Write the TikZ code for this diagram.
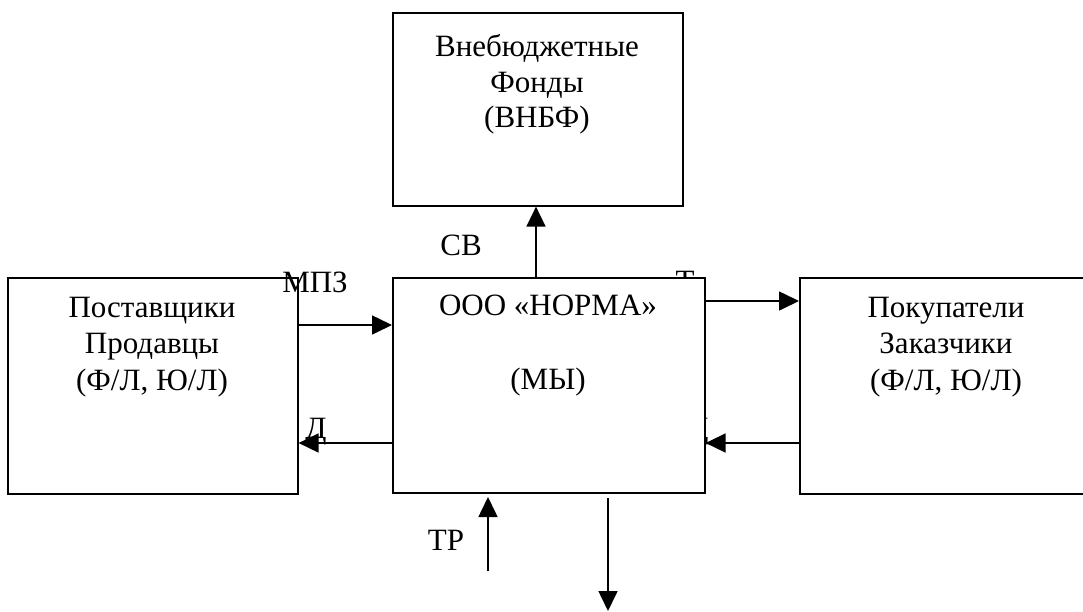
\documentclass[tikz,border=0pt]{standalone}
\usepackage{fontspec}
\setmainfont{Liberation Serif}
\usetikzlibrary{arrows.meta}
\begin{document}
\begin{tikzpicture}[x=1pt,y=-1pt,
  box/.style={draw, line width=1.6pt, fill=white, inner sep=0pt, anchor=north west},
  txt/.style={anchor=base, inner sep=0pt, font=\fontsize{31}{35.7}\selectfont},
  arr/.style={line width=1.6pt, -{Triangle[length=20pt,width=19pt]}}]
\useasboundingbox (0,0) rectangle (1083,611);
% boxes (outer) 
\node[box, minimum width=290pt, minimum height=193pt] (fonds) at (392,12) {};
\node[box, minimum width=290pt, minimum height=216pt] (supp) at (7,277) {};
\node[box, minimum width=294pt, minimum height=216pt] (cust) at (799,277) {};
% labels
\node[txt] (lsv) at (461,255) {СВ};
\node[txt] (lt) at (685,291) {Т};
\node[txt] (ld2) at (698,438) {Д};
% centre box over the hidden labels
\node[box, minimum width=312pt, minimum height=215pt] (we) at (392,277) {};
\node[txt] (lmpz) at (315,292) {МПЗ};
\node[txt] (ld) at (316,438) {Д};
\node[txt] (ltr) at (446,550) {ТР};
% box texts
\node[txt] (f1) at (537,56) {Внебюджетные};
\node[txt] (f2) at (537,92) {Фонды};
\node[txt] (f3) at (537,127) {(ВНБФ)};
\node[txt] (w1) at (548,315) {ООО «НОРМА»};
\node[txt] (w2) at (548,389) {(МЫ)};
\node[txt] (s1) at (152,317) {Поставщики};
\node[txt] (s2) at (152,353) {Продавцы};
\node[txt] (s3) at (152,390) {(Ф/Л, Ю/Л)};
\node[txt] (c1) at (946,317) {Покупатели};
\node[txt] (c2) at (946,353) {Заказчики};
\node[txt] (c3) at (946,390) {(Ф/Л, Ю/Л)};
% free ends
\coordinate (trs) at (488,571);
\coordinate (trt) at (488,497);
\coordinate (dns) at (608,498);
\coordinate (dnt) at (608,611);
% connectors
\draw[arr] (we.north -| 536,0) -- (fonds.south -| 536,0);
\draw[arr] (supp.east |- 0,325) -- (we.west |- 0,325);
\draw[arr] (we.east |- 0,301) -- (cust.west |- 0,301);
\draw[arr] (we.west |- 0,443) -- (supp.east |- 0,443);
\draw[arr] (cust.west |- 0,443) -- (we.east |- 0,443);
\draw[arr] (trs) -- (trt);
\draw[arr] (dns) -- (dnt);
\end{tikzpicture}
\end{document}
